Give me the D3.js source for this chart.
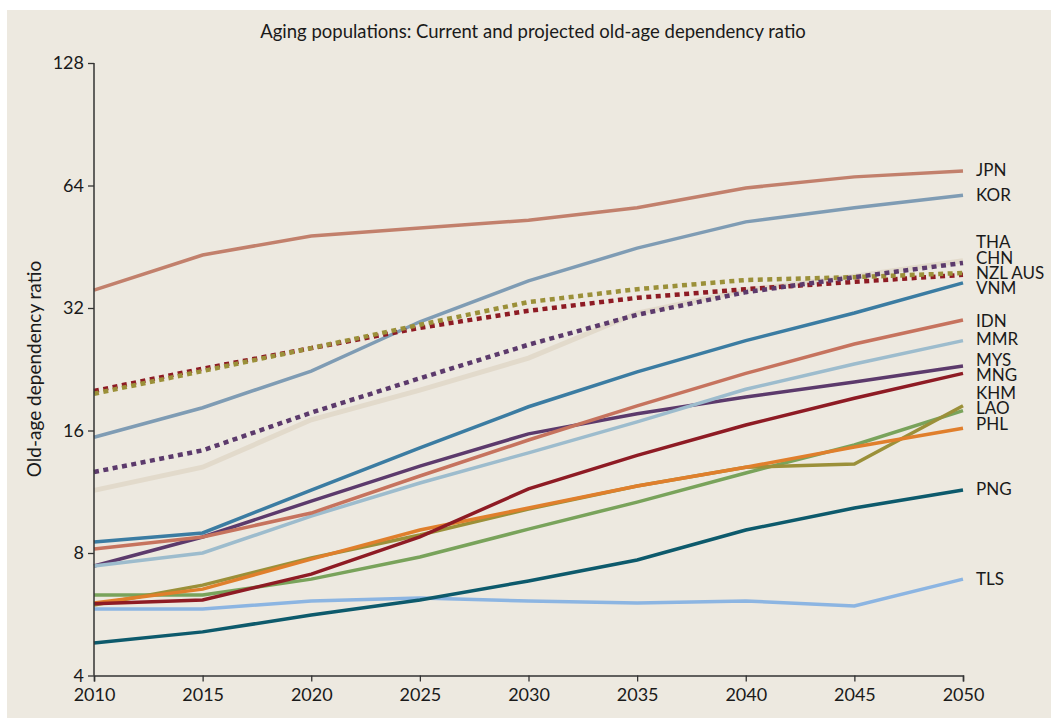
<!DOCTYPE html>
<html>
<head>
<meta charset="utf-8">
<script src="https://cdn.jsdelivr.net/npm/d3@7"></script>
<style>
  body { margin:0; background:#fff; }
  text { font-family: Lato, "Open Sans", sans-serif; fill:#1a1a1a; }
</style>
</head>
<body>
<div id="chart"></div>
<script>
// years on the x axis
var years = [2010, 2015, 2020, 2025, 2030, 2035, 2040, 2045, 2050];
var yTicks = [4, 8, 16, 32, 64, 128];

// old-age dependency ratio
var JPN = [35.4, 43.2, 48.1, 50.3, 52.6, 56.4, 63.1, 67.2, 69.5];
var KOR = [15.4, 18.2, 22.4, 29.6, 37.3, 44.9, 52.1, 56.4, 60.6];
var THA = [11.4, 13.0, 17.0, 20.1, 24.1, 31.1, 35.4, 38.3, 41.8];
var CHN = [12.65, 14.3, 17.7, 21.5, 26.0, 30.8, 35.0, 38.1, 41.3];
var NZL = [20.0, 22.7, 25.5, 28.6, 31.5, 33.9, 35.6, 37.1, 38.6];
var AUS = [19.7, 22.4, 25.5, 29.1, 33.1, 35.6, 37.5, 38.1, 39.0];
var VNM = [8.51, 8.96, 11.42, 14.5, 18.3, 22.3, 26.6, 31.1, 36.9];
var IDN = [8.18, 8.76, 10.03, 12.37, 15.16, 18.4, 22.1, 26.1, 29.9];
var MMR = [7.43, 8.0, 9.86, 11.89, 14.1, 16.8, 20.2, 23.3, 26.6];
var MYS = [7.43, 8.76, 10.73, 13.08, 15.7, 17.6, 19.35, 21.05, 23.05];
var MNG = [6.0, 6.13, 7.1, 8.76, 11.5, 13.9, 16.5, 19.2, 22.1];
var KHM = [5.96, 6.67, 7.78, 8.86, 10.26, 11.69, 13.0, 13.24, 18.4];
var LAO = [6.31, 6.31, 6.9, 7.82, 9.16, 10.67, 12.58, 14.74, 17.9];
var PHL = [6.03, 6.52, 7.73, 9.11, 10.32, 11.69, 13.0, 14.57, 16.2];
var PNG = [4.81, 5.12, 5.63, 6.13, 6.83, 7.69, 9.11, 10.32, 11.42];
var TLS = [5.83, 5.83, 6.1, 6.2, 6.1, 6.03, 6.1, 5.93, 6.9];

// label names and where their text sits (in ratio units)
var labelNames = ["JPN", "KOR", "THA", "CHN", "NZL AUS", "VNM", "IDN", "MMR", "MYS", "MNG", "KHM", "LAO", "PHL", "PNG", "TLS"];
var labelAt = [69.8, 60.8, 46.6, 42.5, 39.0, 35.9, 29.8, 26.8, 23.9, 21.9, 19.8, 18.2, 16.6, 11.5, 6.9];

var width = 1051, height = 718;
var x0 = 94, x1 = 963, yTop = 63, yBot = 675.5;

var svg = d3.select('#chart').append('svg')
  .attr('width', width).attr('height', height);

svg.append('rect').attr('x', 7).attr('y', 10)
  .attr('width', width - 7).attr('height', height - 10)
  .attr('fill', '#ede9e0');

var x = d3.scaleLinear().domain([2010, 2050]).range([x0, x1]);
var y = d3.scaleLog().base(2).domain([4, 128]).range([yBot, yTop]);

// series: [data, colour, width, dashed]
var series = [
  [THA, '#e2dacb', 5, false],
  [TLS, '#8cb5e2', 3.5, false],
  [PNG, '#0d5a6c', 3.5, false],
  [LAO, '#79a35b', 3.5, false],
  [KHM, '#9b9039', 3.5, false],
  [PHL, '#e07f2c', 3.5, false],
  [MNG, '#8e1b24', 3.5, false],
  [MYS, '#5c3a6c', 3.5, false],
  [MMR, '#9dbccd', 3.5, false],
  [IDN, '#c6735e', 3.5, false],
  [VNM, '#3b7ca2', 3.5, false],
  [KOR, '#7f9cb4', 3.5, false],
  [JPN, '#c2806c', 3.5, false],
  [NZL, '#8e1b24', 4.5, true],
  [AUS, '#9b9039', 4.5, true],
  [CHN, '#5c3a6c', 4.5, true]
];

var line = d3.line()
  .x(function(d, i){ return x(years[i]); })
  .y(function(d){ return y(d); });

series.forEach(function(s){
  svg.append('path')
    .datum(s[0])
    .attr('d', line)
    .attr('fill', 'none')
    .attr('stroke', s[1])
    .attr('stroke-width', s[2])
    .attr('stroke-dasharray', s[3] ? '5,4.5' : null);
});

// axes
var yAxis = d3.axisLeft(y).tickValues(yTicks).tickFormat(d3.format('d')).tickSizeOuter(0).tickSize(6);
var gy = svg.append('g').attr('transform', 'translate(' + x0 + ',0)').call(yAxis);
var xAxis = d3.axisBottom(x).tickValues(years).tickFormat(d3.format('d')).tickSizeOuter(0).tickSize(6);
var gx = svg.append('g').attr('transform', 'translate(0,' + yBot + ')').call(xAxis);

[gx, gy].forEach(function(g){
  g.selectAll('path').attr('stroke', '#333').attr('stroke-width', 1.5);
  g.selectAll('line').attr('stroke', '#333').attr('stroke-width', 1.3);
  g.selectAll('text').style('font-size', '18px').attr('fill', '#1a1a1a');
});
gy.select('.domain').attr('d', 'M0,' + (yTop) + 'V' + yBot);
gy.selectAll('text').attr('x', -10);
gx.selectAll('text').attr('y', 13);

// title and axis label
svg.append('text').attr('x', 533).attr('y', 38).attr('text-anchor', 'middle')
  .style('font-size', '18.5px').text('Aging populations: Current and projected old-age dependency ratio');

svg.append('text').attr('transform', 'translate(41,' + 369 + ') rotate(-90)')
  .attr('text-anchor', 'middle').style('font-size', '19px').text('Old-age dependency ratio');

// end labels
labelNames.forEach(function(n, i){
  svg.append('text').attr('x', 976).attr('y', y(labelAt[i]))
    .attr('dy', '0.36em').style('font-size', '17px').text(n);
});
</script>
</body>
</html>
